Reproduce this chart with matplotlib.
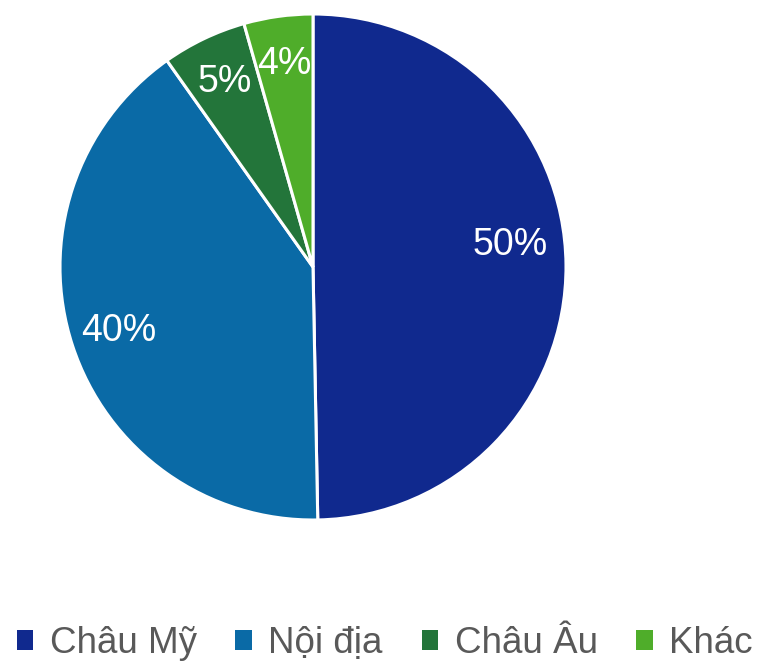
import matplotlib
matplotlib.use("Agg")
import matplotlib.pyplot as plt
from matplotlib.patches import Patch

plt.rcParams['font.family'] = ['Liberation Sans', 'DejaVu Sans']

# data
labels = ['Châu Mỹ', 'Nội địa', 'Châu Âu', 'Khác']
shares = [49.7, 40.5, 5.4, 4.4]
colors = ['#10298E', '#0A6AA6', '#23753A', '#4FAD2A']

fig = plt.figure(figsize=(7.62, 6.67), dpi=100)
ax = fig.add_axes([60 / 762, 147 / 667, 506 / 762, 506 / 667])

wedges, texts, autotexts = ax.pie(
    shares, colors=colors, startangle=90, counterclock=False,
    autopct='%.0f%%', pctdistance=0.81, radius=1.0,
    wedgeprops=dict(edgecolor='white', linewidth=2.2),
    textprops=dict(color='white', fontsize=27))
# the big slice's label sits a bit higher in the original
x, y = autotexts[0].get_position()
autotexts[0].set_position((x - 0.03, y + 0.08))
ax.set_xlim(-1.0, 1.0)
ax.set_ylim(-1.0, 1.0)
ax.set_aspect('equal')
ax.axis('off')

handles = [Patch(facecolor=c, edgecolor='none') for c in colors]
fig.legend(handles, labels, loc='center', bbox_to_anchor=(0.505, 0.035),
           ncol=4, frameon=False, fontsize=26.5, labelcolor='#595959',
           handlelength=0.45, handleheight=0.45, handletextpad=0.45,
           columnspacing=1.05, borderaxespad=0)

fig.savefig('out.png', dpi=100)
